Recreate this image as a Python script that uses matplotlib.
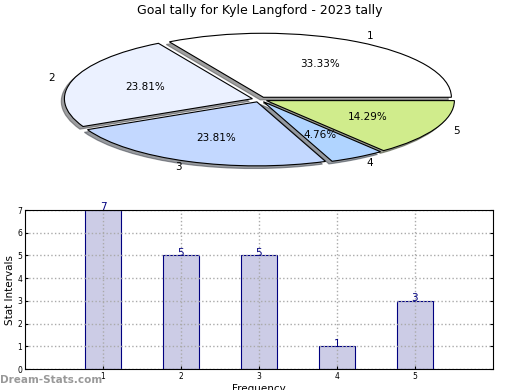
"""
Goal tally pie + bar summary for one player, redrawn with matplotlib.
"""
import matplotlib
matplotlib.use("Agg")
import matplotlib.pyplot as plt

# data
title = "Goal tally for Kyle Langford - 2023 tally"
categories = ["1", "2", "3", "4", "5"]
goals = [7, 5, 5, 1, 3]
slice_colors = ["#ffffff", "#ebf1ff", "#c3d8ff", "#b0d4ff", "#d0ec8c"]

fig = plt.figure(figsize=(5.2, 3.9), dpi=100)
fig.text(0.5, 0.974, title, ha="center", va="center", fontsize=9)

# pie, squashed into a wide box
ax_pie = fig.add_axes([0.1377, 0.5808, 0.7231, 0.3282])
ax_pie.pie(goals, labels=categories, colors=slice_colors, startangle=0,
           explode=[0.04] * len(goals),
           shadow=dict(ox=-0.012, oy=-0.03, shade=0.75),
           autopct="%.2f%%", pctdistance=0.6, labeldistance=1.1,
           wedgeprops=dict(edgecolor="black", linewidth=0.8),
           textprops=dict(fontsize=7.5))
ax_pie.set_aspect("auto")
ax_pie.set_xlim(-1, 1)
ax_pie.set_ylim(-1, 1)
ax_pie.axis("off")

# bars
ax = fig.add_axes([0.048, 0.0538, 0.9, 0.4077])
xs = list(range(1, len(goals) + 1))
ax.bar(xs, goals, width=0.46, color="#ccccE6", edgecolor="#000080",
       linewidth=0.8, zorder=1)
for x, v in zip(xs, goals):
    ax.text(x, v - 0.1, str(v), ha="center", va="bottom", color="#000080",
            fontsize=7.5)
ax.set_xlim(0, 6)
ax.set_ylim(0, 7)
ax.set_xticks(xs)
ax.set_xticklabels(categories)
ax.set_yticks(range(0, 8))
ax.tick_params(labelsize=5.5, direction="in", length=2, pad=2,
               right=True, top=False)
ax.grid(True, linestyle=":", color="#aaaaaa", linewidth=1, zorder=2)
ax.set_axisbelow(False)
for sp in ax.spines.values():
    sp.set_zorder(5)
ax.set_ylabel("Stat Intervals", fontsize=7.5, labelpad=2)
ax.set_xlabel("Frequency", fontsize=7.5, labelpad=2)

fig.text(0.0, 0.025, "Dream-Stats.com", ha="left", va="center",
         fontsize=7.5, fontweight="bold", color="#999999")

fig.savefig("out.png", dpi=100)
